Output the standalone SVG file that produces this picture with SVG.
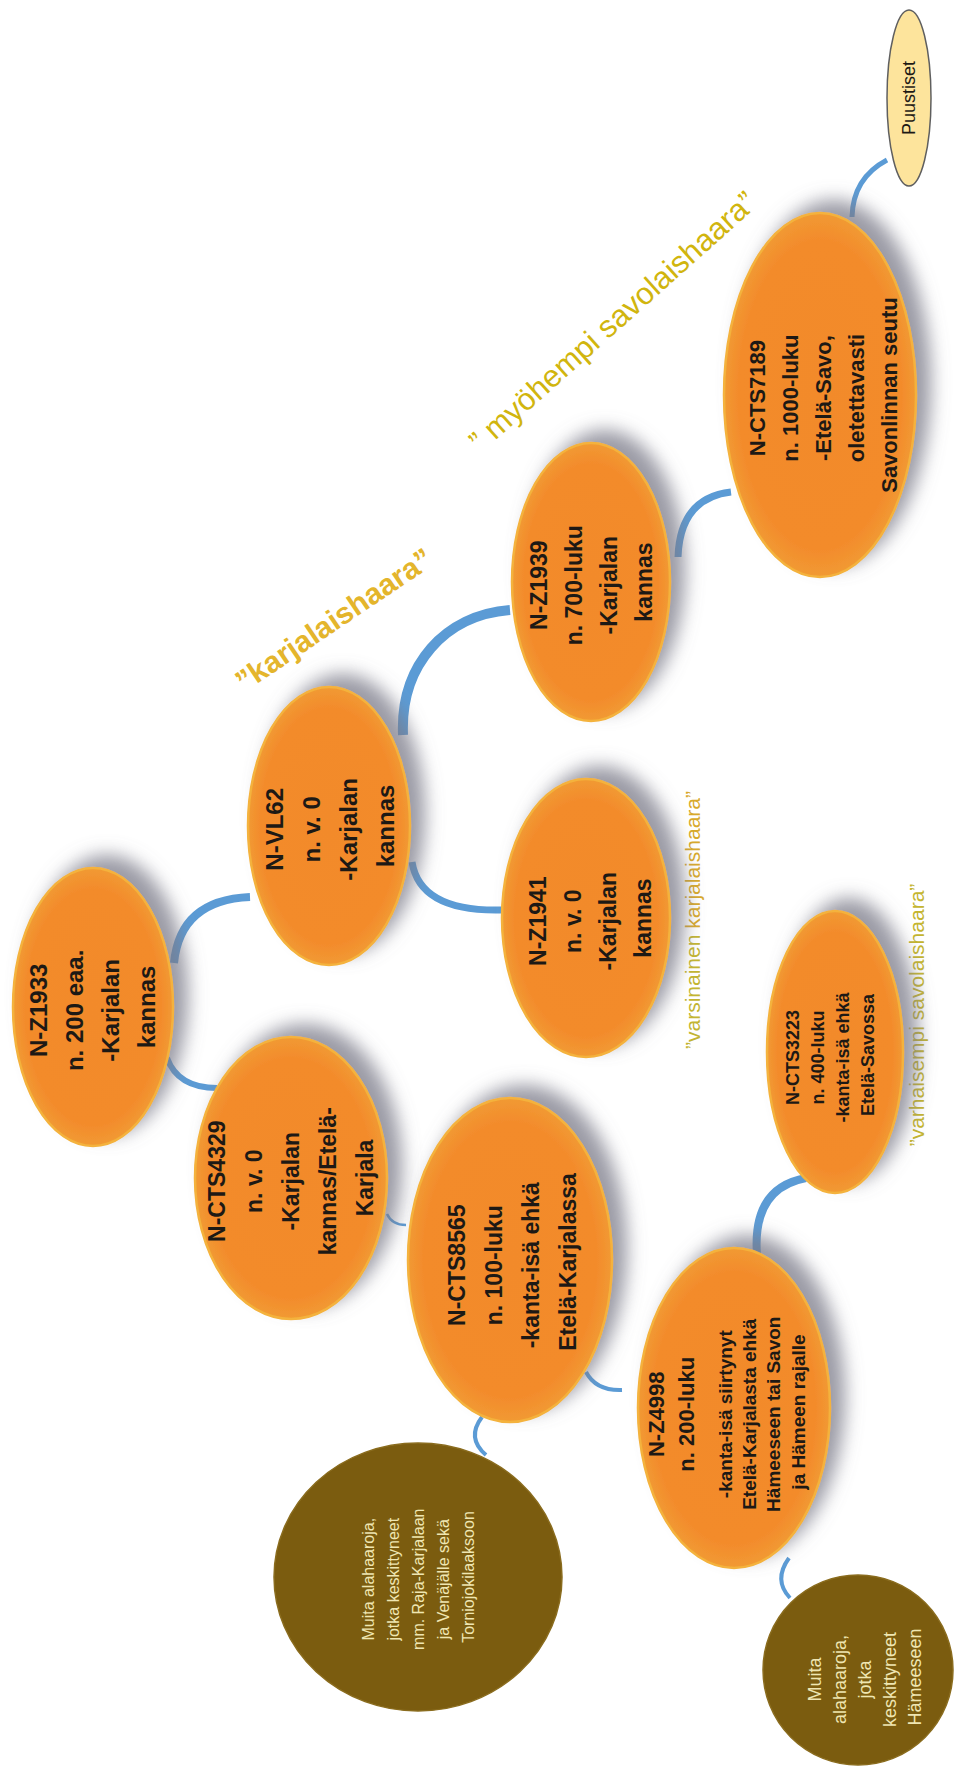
<svg xmlns="http://www.w3.org/2000/svg" width="954" height="1770" viewBox="0 0 954 1770">
<style>
.or{fill:url(#og);stroke:#F4B23C;stroke-width:2.5}
.ol{fill:#7B5C0F;stroke:#8A6C1E;stroke-width:1.5}
.t{font-family:"Liberation Sans",Arial,sans-serif;font-weight:bold;fill:#1d1915;text-anchor:middle}
.tp{font-family:"Liberation Sans",Arial,sans-serif;font-weight:normal;fill:#1d1915;text-anchor:middle}
.tl{font-family:"Liberation Sans",Arial,sans-serif;fill:#EFE6B2;text-anchor:middle}
.lab{font-family:"Liberation Sans",Arial,sans-serif;text-anchor:middle}
.c{fill:none;stroke:#5B9BD5;stroke-linecap:butt}
</style>
<defs>
<radialGradient id="og" cx="50%" cy="50%" r="50%">
<stop offset="0" stop-color="#F28A2C"/>
<stop offset="0.85" stop-color="#F38B2C"/>
<stop offset="1" stop-color="#F19A32"/>
</radialGradient>
<filter id="sh" x="-40%" y="-30%" width="180%" height="160%">
<feGaussianBlur in="SourceAlpha" stdDeviation="9"/>
<feOffset dx="14" dy="-12" result="b"/>
<feFlood flood-color="#7a7a88" flood-opacity="0.75"/>
<feComposite in2="b" operator="in"/>
<feMerge><feMergeNode/><feMergeNode in="SourceGraphic"/></feMerge>
</filter>
</defs>
<rect width="954" height="1770" fill="#ffffff"/>

<g id="connectors">
<path class="c" d="M 887 160 Q 853 178 852 217" stroke-width="5"/>
<path class="c" d="M 731 492 Q 680 498 678 557" stroke-width="7"/>
<path class="c" d="M 403 735 C 400 665 445 615 510 610" stroke-width="10"/>
<path class="c" d="M 174 963 Q 180 900 250 897" stroke-width="8"/>
<path class="c" d="M 167 1058 Q 178 1088 217 1088" stroke-width="6"/>
<path class="c" d="M 412 862 Q 420 912 502 910" stroke-width="7"/>
<path class="c" d="M 387 1214 Q 392 1225 406 1225" stroke-width="2.5"/>
<path class="c" d="M 586 1372 Q 596 1391 622 1390" stroke-width="4"/>
<path class="c" d="M 482 1417 Q 466 1438 486 1455" stroke-width="4"/>
<path class="c" d="M 757 1255 Q 752 1188 806 1178" stroke-width="8"/>
<path class="c" d="M 789 1558 Q 773 1580 790 1598" stroke-width="4"/>
</g>

<g id="labels">
<text class="lab" transform="translate(613,322) rotate(-41.8)" y="10" font-size="31" fill="#D1B50E">” myöhempi savolaishaara”</text>
<text class="lab" transform="translate(334,620) rotate(-34)" y="10" font-size="30" font-weight="bold" fill="#E4B52C">”karjalaishaara”</text>
<text class="lab" transform="translate(693,920) rotate(-90)" y="7" font-size="21"><tspan fill="#C3B532">”varsinainen </tspan><tspan fill="#D8A92C">karjalaishaara”</tspan></text>
<text class="lab" transform="translate(917,1015) rotate(-90)" y="7" font-size="21" fill="#C4B530">”varhaisempi savolaishaara”</text>
</g>

<g id="n-puustiset">
<ellipse cx="909" cy="98" rx="22" ry="88" fill="#FDE49C" stroke="#5f5f5f" stroke-width="1.5"/>
<text class="tp" font-size="18" transform="translate(909,98) rotate(-90)" y="6">Puustiset</text>
</g>

<g id="n-cts7189">
<ellipse class="or" filter="url(#sh)" cx="820" cy="395" rx="96" ry="182"/>
<text class="t" font-size="22" transform="translate(823,395) rotate(-90)">
<tspan x="0" y="-58">N-CTS7189</tspan>
<tspan x="0" y="-25">n. 1000-luku</tspan>
<tspan x="0" y="8">-Etelä-Savo,</tspan>
<tspan x="0" y="41">oletettavasti</tspan>
<tspan x="0" y="74">Savonlinnan seutu</tspan>
</text>
</g>

<g id="n-z1939">
<ellipse class="or" filter="url(#sh)" cx="591" cy="582" rx="79" ry="139"/>
<text class="t" font-size="23" transform="translate(591,582) rotate(-90)">
<tspan x="0" y="-44.5">N-Z1939</tspan>
<tspan x="0" y="-9.5">n. 700-luku</tspan>
<tspan x="0" y="25.5">-Karjalan</tspan>
<tspan x="0" y="60.5">kannas</tspan>
</text>
</g>

<g id="n-vl62">
<ellipse class="or" filter="url(#sh)" cx="329" cy="826" rx="81" ry="139"/>
<text class="t" font-size="24" transform="translate(330,826) rotate(-90)">
<tspan x="0" y="-47">N-VL62</tspan>
<tspan x="0" y="-10">n. v. 0</tspan>
<tspan x="0" y="27">-Karjalan</tspan>
<tspan x="0" y="64">kannas</tspan>
</text>
</g>

<g id="n-z1941">
<ellipse class="or" filter="url(#sh)" cx="586" cy="918" rx="84" ry="139"/>
<text class="t" font-size="23" transform="translate(590,918) rotate(-90)">
<tspan x="0" y="-44.5">N-Z1941</tspan>
<tspan x="0" y="-9.5">n. v. 0</tspan>
<tspan x="0" y="25.5">-Karjalan</tspan>
<tspan x="0" y="60.5">kannas</tspan>
</text>
</g>

<g id="n-z1933">
<ellipse class="or" filter="url(#sh)" cx="93" cy="1007" rx="80" ry="139"/>
<text class="t" font-size="24" transform="translate(93,1007) rotate(-90)">
<tspan x="0" y="-46">N-Z1933</tspan>
<tspan x="0" y="-10">n. 200 eaa.</tspan>
<tspan x="0" y="26">-Karjalan</tspan>
<tspan x="0" y="62">kannas</tspan>
</text>
</g>

<g id="n-cts4329">
<ellipse class="or" filter="url(#sh)" cx="291" cy="1178" rx="96" ry="141"/>
<text class="t" font-size="23" transform="translate(291,1178) rotate(-90)">
<tspan x="0" y="-66">N-CTS4329</tspan>
<tspan x="0" y="-29">n. v. 0</tspan>
<tspan x="0" y="8">-Karjalan</tspan>
<tspan x="0" y="45">kannas/Etelä-</tspan>
<tspan x="0" y="82">Karjala</tspan>
</text>
</g>

<g id="n-cts8565">
<ellipse class="or" filter="url(#sh)" cx="510" cy="1260" rx="102" ry="162"/>
<text class="t" font-size="23" transform="translate(512,1262) rotate(-90)">
<tspan x="0" y="-47.5">N-CTS8565</tspan>
<tspan x="0" y="-10.5">n. 100-luku</tspan>
<tspan x="0" y="26.5">-kanta-isä ehkä</tspan>
<tspan x="0" y="63.5">Etelä-Karjalassa</tspan>
</text>
</g>

<g id="n-cts3223">
<ellipse class="or" filter="url(#sh)" cx="835" cy="1052" rx="68" ry="141"/>
<text class="t" font-size="18" transform="translate(830,1055) rotate(-90)">
<tspan x="0" y="-31">N-CTS3223</tspan>
<tspan x="0" y="-6">n. 400-luku</tspan>
<tspan x="0" y="19">-kanta-isä ehkä</tspan>
<tspan x="0" y="44">Etelä-Savossa</tspan>
</text>
</g>

<g id="n-z4998">
<ellipse class="or" filter="url(#sh)" cx="734" cy="1408" rx="96" ry="160"/>
<text class="t" transform="translate(734,1412) rotate(-90)">
<tspan x="0" y="-70" font-size="22">N-Z4998</tspan>
<tspan x="0" y="-40" font-size="22">n. 200-luku</tspan>
<tspan x="0" y="-2" font-size="19">-kanta-isä siirtynyt</tspan>
<tspan x="0" y="22" font-size="19">Etelä-Karjalasta ehkä</tspan>
<tspan x="0" y="46" font-size="19">Hämeeseen tai Savon</tspan>
<tspan x="0" y="71" font-size="19">ja Hämeen rajalle</tspan>
</text>
</g>

<g id="n-muita-1">
<ellipse class="ol" cx="418" cy="1577" rx="144" ry="134"/>
<text class="tl" font-size="16" transform="translate(418,1577) rotate(-90)">
<tspan x="0" y="-44.5">Muita alahaaroja,</tspan>
<tspan x="0" y="-19.5">jotka keskittyneet</tspan>
<tspan x="0" y="5.5">mm. Raja-Karjalaan</tspan>
<tspan x="0" y="30.5">ja Venäjälle sekä</tspan>
<tspan x="0" y="55.5">Torniojokilaaksoon</tspan>
</text>
</g>

<g id="n-muita-2">
<ellipse class="ol" cx="858" cy="1670" rx="95" ry="95"/>
<text class="tl" font-size="18" transform="translate(865,1677) rotate(-90)">
<tspan x="0" y="-44">Muita</tspan>
<tspan x="0" y="-19">alahaaroja,</tspan>
<tspan x="0" y="6">jotka</tspan>
<tspan x="0" y="31">keskittyneet</tspan>
<tspan x="0" y="56">Hämeeseen</tspan>
</text>
</g>
</svg>
